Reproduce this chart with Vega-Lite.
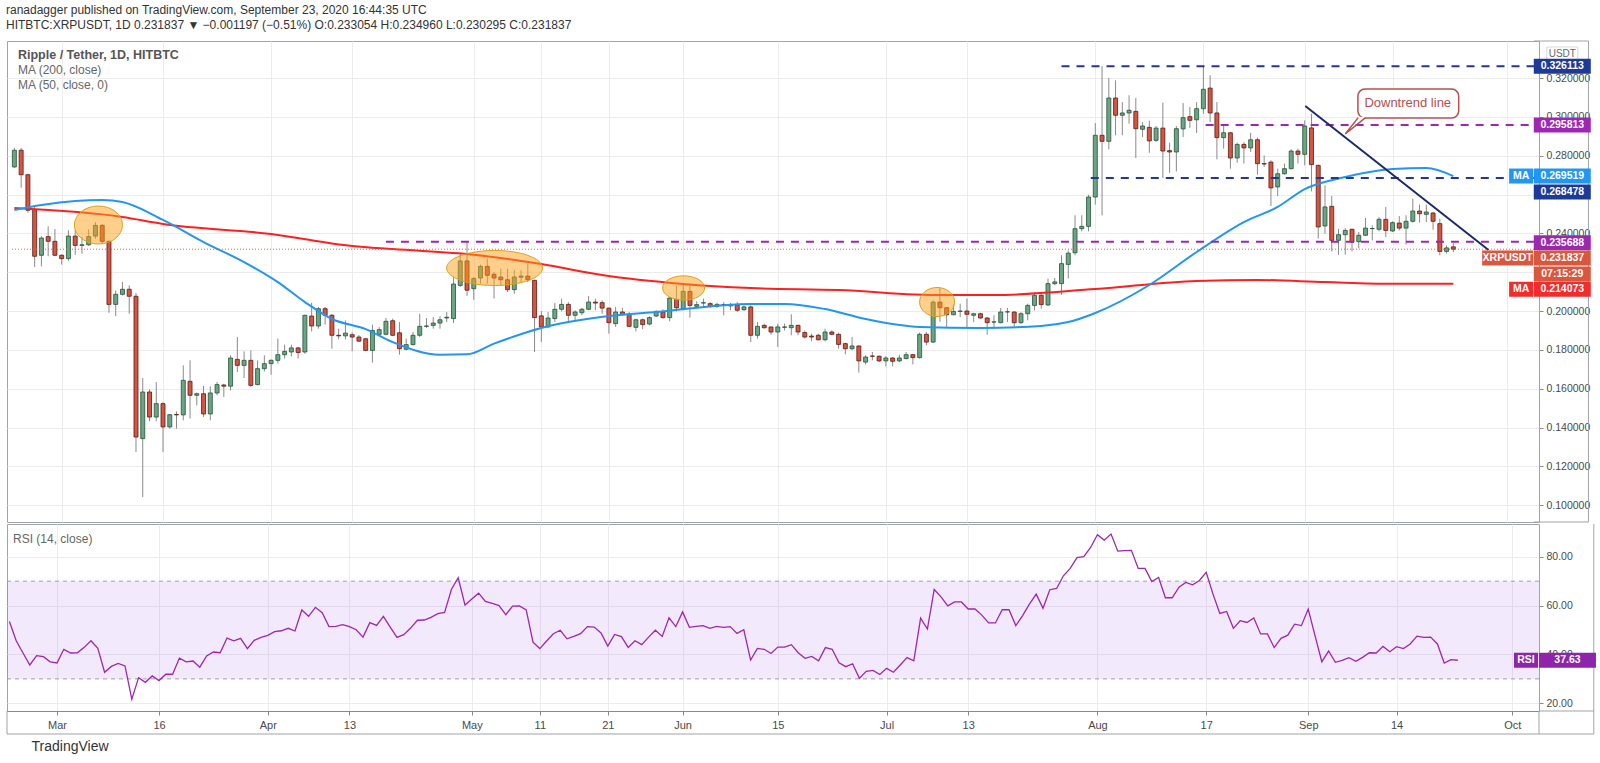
{
  "$schema": "https://vega.github.io/schema/vega-lite/v6.json",
  "background": "white",
  "padding": {"left": 6, "top": 4, "right": 0, "bottom": 0},
  "spacing": 0,
  "title": {
    "text": "ranadagger published on TradingView.com, September 23, 2020 16:44:35 UTC",
    "subtitle": "HITBTC:XRPUSDT, 1D  0.231837 ▼ −0.001197 (−0.51%)  O:0.233054  H:0.234960  L:0.230295  C:0.231837",
    "anchor": "start", "font": "Liberation Sans", "fontSize": 12, "fontWeight": "normal", "color": "#333333",
    "subtitleFont": "Liberation Sans", "subtitleFontSize": 12, "subtitleColor": "#333333", "subtitlePadding": 3, "offset": 8
  },
  "config": {
    "font": "Liberation Sans",
    "view": {"stroke": "#a0a3ab", "strokeWidth": 1},
    "axis": {"gridColor": "#ececec", "labelColor": "#4a4a4a", "labelFontSize": 10.5, "labelFont": "Liberation Sans", "tickColor": "#8a8a8a", "domainColor": "#8a8a8a"}
  },
  "datasets": {
    "ohlc": [
      {"d":"2020-02-23","o":0.2742,"h":0.2841,"l":0.2737,"c":0.2828,"r":53.5},
      {"d":"2020-02-24","o":0.2828,"h":0.2840,"l":0.2635,"c":0.2702,"r":45.6},
      {"d":"2020-02-25","o":0.2702,"h":0.2707,"l":0.2506,"c":0.2519,"r":40.6},
      {"d":"2020-02-26","o":0.2522,"h":0.2544,"l":0.2227,"c":0.2282,"r":35.7},
      {"d":"2020-02-27","o":0.2287,"h":0.2385,"l":0.2230,"c":0.2376,"r":39.5},
      {"d":"2020-02-28","o":0.2383,"h":0.2436,"l":0.2282,"c":0.2359,"r":39.1},
      {"d":"2020-02-29","o":0.2359,"h":0.2422,"l":0.2283,"c":0.2287,"r":37.0},
      {"d":"2020-03-01","o":0.2287,"h":0.2292,"l":0.2239,"c":0.2270,"r":36.5},
      {"d":"2020-03-02","o":0.2270,"h":0.2416,"l":0.2258,"c":0.2386,"r":42.1},
      {"d":"2020-03-03","o":0.2386,"h":0.2416,"l":0.2290,"c":0.2338,"r":40.6},
      {"d":"2020-03-04","o":0.2338,"h":0.2381,"l":0.2295,"c":0.2341,"r":40.7},
      {"d":"2020-03-05","o":0.2341,"h":0.2420,"l":0.2335,"c":0.2383,"r":42.9},
      {"d":"2020-03-06","o":0.2386,"h":0.2458,"l":0.2372,"c":0.2441,"r":45.6},
      {"d":"2020-03-07","o":0.2441,"h":0.2448,"l":0.2347,"c":0.2359,"r":42.5},
      {"d":"2020-03-08","o":0.2359,"h":0.2362,"l":0.1991,"c":0.2034,"r":32.7},
      {"d":"2020-03-09","o":0.2034,"h":0.2106,"l":0.1973,"c":0.2086,"r":35.1},
      {"d":"2020-03-10","o":0.2086,"h":0.2149,"l":0.2080,"c":0.2112,"r":36.3},
      {"d":"2020-03-11","o":0.2112,"h":0.2132,"l":0.1986,"c":0.2076,"r":35.3},
      {"d":"2020-03-12","o":0.2076,"h":0.2093,"l":0.1274,"c":0.1351,"r":21.7},
      {"d":"2020-03-13","o":0.1343,"h":0.1655,"l":0.1042,"c":0.1583,"r":30.5},
      {"d":"2020-03-14","o":0.1583,"h":0.1597,"l":0.1432,"c":0.1454,"r":28.6},
      {"d":"2020-03-15","o":0.1454,"h":0.1634,"l":0.1432,"c":0.1523,"r":31.2},
      {"d":"2020-03-16","o":0.1523,"h":0.1530,"l":0.1274,"c":0.1403,"r":29.3},
      {"d":"2020-03-17","o":0.1403,"h":0.1470,"l":0.1394,"c":0.1466,"r":31.9},
      {"d":"2020-03-18","o":0.1467,"h":0.1483,"l":0.1394,"c":0.1465,"r":31.9},
      {"d":"2020-03-19","o":0.1465,"h":0.1720,"l":0.1437,"c":0.1643,"r":38.5},
      {"d":"2020-03-20","o":0.1638,"h":0.1746,"l":0.1446,"c":0.1566,"r":37.0},
      {"d":"2020-03-21","o":0.1566,"h":0.1580,"l":0.1514,"c":0.1574,"r":37.3},
      {"d":"2020-03-22","o":0.1574,"h":0.1614,"l":0.1454,"c":0.1470,"r":34.8},
      {"d":"2020-03-23","o":0.1470,"h":0.1612,"l":0.1437,"c":0.1578,"r":39.4},
      {"d":"2020-03-24","o":0.1578,"h":0.1634,"l":0.1566,"c":0.1621,"r":41.0},
      {"d":"2020-03-25","o":0.1619,"h":0.1625,"l":0.1557,"c":0.1613,"r":40.7},
      {"d":"2020-03-26","o":0.1613,"h":0.1772,"l":0.1591,"c":0.1758,"r":46.7},
      {"d":"2020-03-27","o":0.1751,"h":0.1866,"l":0.1686,"c":0.1720,"r":45.6},
      {"d":"2020-03-28","o":0.1720,"h":0.1792,"l":0.1655,"c":0.1746,"r":46.6},
      {"d":"2020-03-29","o":0.1746,"h":0.1797,"l":0.1609,"c":0.1617,"r":42.4},
      {"d":"2020-03-30","o":0.1621,"h":0.1746,"l":0.1617,"c":0.1703,"r":45.8},
      {"d":"2020-03-31","o":0.1703,"h":0.1772,"l":0.1689,"c":0.1729,"r":47.0},
      {"d":"2020-04-01","o":0.1729,"h":0.1751,"l":0.1672,"c":0.1746,"r":47.8},
      {"d":"2020-04-02","o":0.1746,"h":0.1858,"l":0.1729,"c":0.1775,"r":49.3},
      {"d":"2020-04-03","o":0.1775,"h":0.1827,"l":0.1755,"c":0.1792,"r":49.7},
      {"d":"2020-04-04","o":0.1789,"h":0.1827,"l":0.1766,"c":0.1810,"r":50.7},
      {"d":"2020-04-05","o":0.1810,"h":0.1815,"l":0.1755,"c":0.1786,"r":49.6},
      {"d":"2020-04-06","o":0.1789,"h":0.1981,"l":0.1780,"c":0.1978,"r":58.2},
      {"d":"2020-04-07","o":0.1974,"h":0.2043,"l":0.1895,"c":0.1923,"r":55.6},
      {"d":"2020-04-08","o":0.1923,"h":0.2021,"l":0.1909,"c":0.2012,"r":59.3},
      {"d":"2020-04-09","o":0.2012,"h":0.2021,"l":0.1930,"c":0.1978,"r":57.1},
      {"d":"2020-04-10","o":0.1978,"h":0.1985,"l":0.1806,"c":0.1875,"r":51.4},
      {"d":"2020-04-11","o":0.1875,"h":0.1909,"l":0.1854,"c":0.1872,"r":51.5},
      {"d":"2020-04-12","o":0.1872,"h":0.1952,"l":0.1854,"c":0.1886,"r":52.2},
      {"d":"2020-04-13","o":0.1878,"h":0.1890,"l":0.1793,"c":0.1866,"r":51.4},
      {"d":"2020-04-14","o":0.1866,"h":0.1876,"l":0.1840,"c":0.1845,"r":50.1},
      {"d":"2020-04-15","o":0.1857,"h":0.1862,"l":0.1793,"c":0.1797,"r":47.1},
      {"d":"2020-04-16","o":0.1797,"h":0.1930,"l":0.1734,"c":0.1900,"r":53.0},
      {"d":"2020-04-17","o":0.1880,"h":0.1918,"l":0.1875,"c":0.1904,"r":51.9},
      {"d":"2020-04-18","o":0.1880,"h":0.1964,"l":0.1875,"c":0.1947,"r":55.6},
      {"d":"2020-04-19","o":0.1950,"h":0.1961,"l":0.1871,"c":0.1875,"r":51.2},
      {"d":"2020-04-20","o":0.1888,"h":0.1943,"l":0.1775,"c":0.1806,"r":47.0},
      {"d":"2020-04-21","o":0.1803,"h":0.1858,"l":0.1798,"c":0.1827,"r":48.1},
      {"d":"2020-04-22","o":0.1827,"h":0.1892,"l":0.1823,"c":0.1875,"r":50.8},
      {"d":"2020-04-23","o":0.1875,"h":0.1986,"l":0.1866,"c":0.1921,"r":54.0},
      {"d":"2020-04-24","o":0.1921,"h":0.1964,"l":0.1913,"c":0.1923,"r":54.1},
      {"d":"2020-04-25","o":0.1926,"h":0.1969,"l":0.1909,"c":0.1938,"r":55.2},
      {"d":"2020-04-26","o":0.1938,"h":0.1973,"l":0.1909,"c":0.1955,"r":56.7},
      {"d":"2020-04-27","o":0.1964,"h":0.1995,"l":0.1943,"c":0.1968,"r":57.2},
      {"d":"2020-04-28","o":0.1961,"h":0.2175,"l":0.1938,"c":0.2139,"r":66.6},
      {"d":"2020-04-29","o":0.2132,"h":0.2295,"l":0.2124,"c":0.2258,"r":71.4},
      {"d":"2020-04-30","o":0.2258,"h":0.2355,"l":0.2077,"c":0.2107,"r":60.2},
      {"d":"2020-05-01","o":0.2115,"h":0.2175,"l":0.2058,"c":0.2167,"r":62.7},
      {"d":"2020-05-02","o":0.2170,"h":0.2239,"l":0.2141,"c":0.2230,"r":65.1},
      {"d":"2020-05-03","o":0.2230,"h":0.2270,"l":0.2141,"c":0.2184,"r":61.7},
      {"d":"2020-05-04","o":0.2189,"h":0.2201,"l":0.2064,"c":0.2170,"r":60.9},
      {"d":"2020-05-05","o":0.2175,"h":0.2218,"l":0.2132,"c":0.2161,"r":60.0},
      {"d":"2020-05-06","o":0.2161,"h":0.2218,"l":0.2098,"c":0.2110,"r":56.3},
      {"d":"2020-05-07","o":0.2110,"h":0.2210,"l":0.2089,"c":0.2175,"r":59.8},
      {"d":"2020-05-08","o":0.2174,"h":0.2210,"l":0.2149,"c":0.2180,"r":59.9},
      {"d":"2020-05-09","o":0.2180,"h":0.2244,"l":0.2149,"c":0.2161,"r":58.2},
      {"d":"2020-05-10","o":0.2158,"h":0.2161,"l":0.1789,"c":0.1966,"r":45.0},
      {"d":"2020-05-11","o":0.1975,"h":0.2000,"l":0.1840,"c":0.1918,"r":42.4},
      {"d":"2020-05-12","o":0.1918,"h":0.1995,"l":0.1912,"c":0.1964,"r":45.5},
      {"d":"2020-05-13","o":0.1961,"h":0.2041,"l":0.1943,"c":0.2009,"r":48.5},
      {"d":"2020-05-14","o":0.2009,"h":0.2064,"l":0.1998,"c":0.2034,"r":49.9},
      {"d":"2020-05-15","o":0.2034,"h":0.2046,"l":0.1943,"c":0.1978,"r":46.4},
      {"d":"2020-05-16","o":0.1978,"h":0.2004,"l":0.1952,"c":0.1995,"r":47.4},
      {"d":"2020-05-17","o":0.1991,"h":0.2016,"l":0.1978,"c":0.2009,"r":48.5},
      {"d":"2020-05-18","o":0.2009,"h":0.2077,"l":0.2004,"c":0.2046,"r":51.4},
      {"d":"2020-05-19","o":0.2046,"h":0.2064,"l":0.2004,"c":0.2041,"r":51.2},
      {"d":"2020-05-20","o":0.2043,"h":0.2055,"l":0.1986,"c":0.2015,"r":48.8},
      {"d":"2020-05-21","o":0.2015,"h":0.2016,"l":0.1883,"c":0.1940,"r":43.4},
      {"d":"2020-05-22","o":0.1935,"h":0.2021,"l":0.1918,"c":0.1995,"r":48.2},
      {"d":"2020-05-23","o":0.1995,"h":0.2016,"l":0.1978,"c":0.1981,"r":47.3},
      {"d":"2020-05-24","o":0.1984,"h":0.1995,"l":0.1918,"c":0.1921,"r":42.9},
      {"d":"2020-05-25","o":0.1916,"h":0.1961,"l":0.1895,"c":0.1955,"r":45.6},
      {"d":"2020-05-26","o":0.1955,"h":0.1961,"l":0.1906,"c":0.1930,"r":44.0},
      {"d":"2020-05-27","o":0.1933,"h":0.1973,"l":0.1926,"c":0.1966,"r":47.1},
      {"d":"2020-05-28","o":0.1974,"h":0.2004,"l":0.1969,"c":0.1998,"r":49.9},
      {"d":"2020-05-29","o":0.1995,"h":0.2009,"l":0.1961,"c":0.1966,"r":47.4},
      {"d":"2020-05-30","o":0.1966,"h":0.2072,"l":0.1947,"c":0.2067,"r":55.0},
      {"d":"2020-05-31","o":0.2060,"h":0.2132,"l":0.1998,"c":0.2017,"r":51.4},
      {"d":"2020-06-01","o":0.2012,"h":0.2141,"l":0.2003,"c":0.2101,"r":57.4},
      {"d":"2020-06-02","o":0.2101,"h":0.2141,"l":0.1966,"c":0.2029,"r":51.1},
      {"d":"2020-06-03","o":0.2024,"h":0.2050,"l":0.2016,"c":0.2033,"r":51.5},
      {"d":"2020-06-04","o":0.2041,"h":0.2064,"l":0.2016,"c":0.2043,"r":51.8},
      {"d":"2020-06-05","o":0.2038,"h":0.2046,"l":0.2016,"c":0.2024,"r":50.7},
      {"d":"2020-06-06","o":0.2024,"h":0.2043,"l":0.2016,"c":0.2034,"r":51.5},
      {"d":"2020-06-07","o":0.2033,"h":0.2046,"l":0.1978,"c":0.2032,"r":51.1},
      {"d":"2020-06-08","o":0.2026,"h":0.2041,"l":0.2004,"c":0.2034,"r":51.4},
      {"d":"2020-06-09","o":0.2032,"h":0.2046,"l":0.1995,"c":0.2004,"r":48.6},
      {"d":"2020-06-10","o":0.2007,"h":0.2028,"l":0.2000,"c":0.2021,"r":50.1},
      {"d":"2020-06-11","o":0.2021,"h":0.2029,"l":0.1840,"c":0.1875,"r":37.7},
      {"d":"2020-06-12","o":0.1875,"h":0.1943,"l":0.1858,"c":0.1921,"r":42.5},
      {"d":"2020-06-13","o":0.1926,"h":0.1935,"l":0.1909,"c":0.1914,"r":42.1},
      {"d":"2020-06-14","o":0.1918,"h":0.1918,"l":0.1878,"c":0.1892,"r":40.4},
      {"d":"2020-06-15","o":0.1892,"h":0.1935,"l":0.1815,"c":0.1918,"r":43.0},
      {"d":"2020-06-16","o":0.1916,"h":0.1935,"l":0.1900,"c":0.1918,"r":43.0},
      {"d":"2020-06-17","o":0.1914,"h":0.1983,"l":0.1875,"c":0.1926,"r":44.0},
      {"d":"2020-06-18","o":0.1926,"h":0.1930,"l":0.1875,"c":0.1892,"r":40.7},
      {"d":"2020-06-19","o":0.1889,"h":0.1900,"l":0.1858,"c":0.1866,"r":38.4},
      {"d":"2020-06-20","o":0.1871,"h":0.1883,"l":0.1844,"c":0.1866,"r":39.2},
      {"d":"2020-06-21","o":0.1875,"h":0.1883,"l":0.1849,"c":0.1852,"r":37.4},
      {"d":"2020-06-22","o":0.1852,"h":0.1909,"l":0.1844,"c":0.1892,"r":42.8},
      {"d":"2020-06-23","o":0.1892,"h":0.1900,"l":0.1875,"c":0.1880,"r":42.1},
      {"d":"2020-06-24","o":0.1880,"h":0.1889,"l":0.1806,"c":0.1828,"r":36.6},
      {"d":"2020-06-25","o":0.1832,"h":0.1837,"l":0.1777,"c":0.1806,"r":35.0},
      {"d":"2020-06-26","o":0.1806,"h":0.1866,"l":0.1798,"c":0.1820,"r":36.2},
      {"d":"2020-06-27","o":0.1820,"h":0.1823,"l":0.1683,"c":0.1743,"r":30.2},
      {"d":"2020-06-28","o":0.1737,"h":0.1772,"l":0.1724,"c":0.1763,"r":33.1},
      {"d":"2020-06-29","o":0.1768,"h":0.1789,"l":0.1746,"c":0.1767,"r":33.5},
      {"d":"2020-06-30","o":0.1767,"h":0.1772,"l":0.1737,"c":0.1743,"r":31.8},
      {"d":"2020-07-01","o":0.1743,"h":0.1768,"l":0.1715,"c":0.1758,"r":34.3},
      {"d":"2020-07-02","o":0.1758,"h":0.1763,"l":0.1715,"c":0.1741,"r":32.7},
      {"d":"2020-07-03","o":0.1743,"h":0.1775,"l":0.1737,"c":0.1758,"r":35.7},
      {"d":"2020-07-04","o":0.1755,"h":0.1789,"l":0.1751,"c":0.1775,"r":38.7},
      {"d":"2020-07-05","o":0.1775,"h":0.1780,"l":0.1725,"c":0.1760,"r":37.4},
      {"d":"2020-07-06","o":0.1760,"h":0.1889,"l":0.1755,"c":0.1880,"r":54.9},
      {"d":"2020-07-07","o":0.1880,"h":0.1892,"l":0.1823,"c":0.1840,"r":50.4},
      {"d":"2020-07-08","o":0.1840,"h":0.2055,"l":0.1835,"c":0.2046,"r":66.6},
      {"d":"2020-07-09","o":0.2046,"h":0.2118,"l":0.1944,"c":0.2017,"r":63.6},
      {"d":"2020-07-10","o":0.2017,"h":0.2021,"l":0.1918,"c":0.1981,"r":59.9},
      {"d":"2020-07-11","o":0.1981,"h":0.2033,"l":0.1978,"c":0.1998,"r":61.5},
      {"d":"2020-07-12","o":0.1998,"h":0.2038,"l":0.1969,"c":0.2000,"r":61.5},
      {"d":"2020-07-13","o":0.2000,"h":0.2064,"l":0.1918,"c":0.1983,"r":58.6},
      {"d":"2020-07-14","o":0.1978,"h":0.1991,"l":0.1943,"c":0.1986,"r":58.6},
      {"d":"2020-07-15","o":0.1986,"h":0.1991,"l":0.1961,"c":0.1964,"r":56.1},
      {"d":"2020-07-16","o":0.1964,"h":0.1969,"l":0.1878,"c":0.1940,"r":52.9},
      {"d":"2020-07-17","o":0.1943,"h":0.1978,"l":0.1909,"c":0.1944,"r":52.9},
      {"d":"2020-07-18","o":0.1940,"h":0.2016,"l":0.1937,"c":0.1995,"r":58.3},
      {"d":"2020-07-19","o":0.1995,"h":0.2016,"l":0.1943,"c":0.1996,"r":58.3},
      {"d":"2020-07-20","o":0.1995,"h":0.1998,"l":0.1913,"c":0.1940,"r":51.8},
      {"d":"2020-07-21","o":0.1940,"h":0.1995,"l":0.1935,"c":0.1986,"r":55.9},
      {"d":"2020-07-22","o":0.1986,"h":0.2038,"l":0.1952,"c":0.2029,"r":60.6},
      {"d":"2020-07-23","o":0.2029,"h":0.2098,"l":0.2003,"c":0.2081,"r":64.7},
      {"d":"2020-07-24","o":0.2081,"h":0.2089,"l":0.2012,"c":0.2033,"r":58.9},
      {"d":"2020-07-25","o":0.2031,"h":0.2167,"l":0.2026,"c":0.2141,"r":66.5},
      {"d":"2020-07-26","o":0.2141,"h":0.2170,"l":0.2132,"c":0.2150,"r":67.0},
      {"d":"2020-07-27","o":0.2141,"h":0.2287,"l":0.2084,"c":0.2244,"r":72.2},
      {"d":"2020-07-28","o":0.2240,"h":0.2312,"l":0.2167,"c":0.2298,"r":75.2},
      {"d":"2020-07-29","o":0.2300,"h":0.2493,"l":0.2287,"c":0.2424,"r":79.6},
      {"d":"2020-07-30","o":0.2424,"h":0.2493,"l":0.2410,"c":0.2436,"r":80.0},
      {"d":"2020-07-31","o":0.2436,"h":0.2599,"l":0.2410,"c":0.2587,"r":83.8},
      {"d":"2020-08-01","o":0.2587,"h":0.2968,"l":0.2548,"c":0.2905,"r":89.0},
      {"d":"2020-08-02","o":0.2905,"h":0.3261,"l":0.2493,"c":0.2874,"r":86.8},
      {"d":"2020-08-03","o":0.2874,"h":0.3200,"l":0.2833,"c":0.3097,"r":89.3},
      {"d":"2020-08-04","o":0.3097,"h":0.3188,"l":0.2905,"c":0.3008,"r":82.3},
      {"d":"2020-08-05","o":0.3008,"h":0.3076,"l":0.2905,"c":0.3020,"r":82.5},
      {"d":"2020-08-06","o":0.3020,"h":0.3111,"l":0.2965,"c":0.3034,"r":82.6},
      {"d":"2020-08-07","o":0.3028,"h":0.3097,"l":0.2788,"c":0.2939,"r":75.2},
      {"d":"2020-08-08","o":0.2936,"h":0.2973,"l":0.2896,"c":0.2953,"r":75.2},
      {"d":"2020-08-09","o":0.2946,"h":0.2980,"l":0.2815,"c":0.2876,"r":69.8},
      {"d":"2020-08-10","o":0.2879,"h":0.2953,"l":0.2870,"c":0.2942,"r":71.5},
      {"d":"2020-08-11","o":0.2942,"h":0.3073,"l":0.2685,"c":0.2824,"r":63.2},
      {"d":"2020-08-12","o":0.2826,"h":0.2867,"l":0.2712,"c":0.2819,"r":63.2},
      {"d":"2020-08-13","o":0.2819,"h":0.2953,"l":0.2719,"c":0.2939,"r":67.5},
      {"d":"2020-08-14","o":0.2938,"h":0.3071,"l":0.2896,"c":0.2996,"r":69.5},
      {"d":"2020-08-15","o":0.3001,"h":0.3051,"l":0.2943,"c":0.2982,"r":68.5},
      {"d":"2020-08-16","o":0.2985,"h":0.3076,"l":0.2917,"c":0.3042,"r":70.3},
      {"d":"2020-08-17","o":0.3042,"h":0.3261,"l":0.3016,"c":0.3142,"r":73.6},
      {"d":"2020-08-18","o":0.3148,"h":0.3214,"l":0.2973,"c":0.3020,"r":64.7},
      {"d":"2020-08-19","o":0.3020,"h":0.3076,"l":0.2781,"c":0.2893,"r":56.8},
      {"d":"2020-08-20","o":0.2893,"h":0.2953,"l":0.2836,"c":0.2918,"r":57.6},
      {"d":"2020-08-21","o":0.2918,"h":0.2922,"l":0.2733,"c":0.2788,"r":50.7},
      {"d":"2020-08-22","o":0.2788,"h":0.2867,"l":0.2764,"c":0.2858,"r":53.8},
      {"d":"2020-08-23","o":0.2858,"h":0.2870,"l":0.2759,"c":0.2840,"r":53.1},
      {"d":"2020-08-24","o":0.2840,"h":0.2918,"l":0.2819,"c":0.2882,"r":54.9},
      {"d":"2020-08-25","o":0.2882,"h":0.2893,"l":0.2702,"c":0.2759,"r":48.4},
      {"d":"2020-08-26","o":0.2759,"h":0.2801,"l":0.2742,"c":0.2757,"r":48.4},
      {"d":"2020-08-27","o":0.2767,"h":0.2776,"l":0.2541,"c":0.2634,"r":42.8},
      {"d":"2020-08-28","o":0.2639,"h":0.2733,"l":0.2592,"c":0.2707,"r":46.6},
      {"d":"2020-08-29","o":0.2707,"h":0.2759,"l":0.2702,"c":0.2733,"r":47.9},
      {"d":"2020-08-30","o":0.2733,"h":0.2833,"l":0.2730,"c":0.2824,"r":52.4},
      {"d":"2020-08-31","o":0.2824,"h":0.2836,"l":0.2759,"c":0.2807,"r":51.8},
      {"d":"2020-09-01","o":0.2807,"h":0.2982,"l":0.2750,"c":0.2953,"r":58.6},
      {"d":"2020-09-02","o":0.2943,"h":0.3016,"l":0.2616,"c":0.2754,"r":47.7},
      {"d":"2020-09-03","o":0.2750,"h":0.2754,"l":0.2373,"c":0.2433,"r":37.0},
      {"d":"2020-09-04","o":0.2438,"h":0.2647,"l":0.2398,"c":0.2536,"r":41.4},
      {"d":"2020-09-05","o":0.2539,"h":0.2592,"l":0.2307,"c":0.2364,"r":36.8},
      {"d":"2020-09-06","o":0.2364,"h":0.2424,"l":0.2290,"c":0.2393,"r":37.6},
      {"d":"2020-09-07","o":0.2393,"h":0.2427,"l":0.2290,"c":0.2415,"r":38.7},
      {"d":"2020-09-08","o":0.2421,"h":0.2424,"l":0.2307,"c":0.2355,"r":37.2},
      {"d":"2020-09-09","o":0.2357,"h":0.2407,"l":0.2324,"c":0.2390,"r":38.8},
      {"d":"2020-09-10","o":0.2390,"h":0.2479,"l":0.2386,"c":0.2427,"r":40.7},
      {"d":"2020-09-11","o":0.2424,"h":0.2441,"l":0.2364,"c":0.2425,"r":40.6},
      {"d":"2020-09-12","o":0.2421,"h":0.2484,"l":0.2410,"c":0.2472,"r":43.3},
      {"d":"2020-09-13","o":0.2472,"h":0.2536,"l":0.2381,"c":0.2415,"r":41.1},
      {"d":"2020-09-14","o":0.2412,"h":0.2462,"l":0.2407,"c":0.2455,"r":43.2},
      {"d":"2020-09-15","o":0.2453,"h":0.2489,"l":0.2415,"c":0.2427,"r":42.4},
      {"d":"2020-09-16","o":0.2427,"h":0.2493,"l":0.2342,"c":0.2462,"r":44.3},
      {"d":"2020-09-17","o":0.2462,"h":0.2579,"l":0.2455,"c":0.2515,"r":47.5},
      {"d":"2020-09-18","o":0.2515,"h":0.2548,"l":0.2455,"c":0.2501,"r":47.0},
      {"d":"2020-09-19","o":0.2498,"h":0.2548,"l":0.2458,"c":0.2510,"r":47.1},
      {"d":"2020-09-20","o":0.2505,"h":0.2510,"l":0.2419,"c":0.2462,"r":44.3},
      {"d":"2020-09-21","o":0.2450,"h":0.2476,"l":0.2287,"c":0.2307,"r":36.5},
      {"d":"2020-09-22","o":0.2307,"h":0.2338,"l":0.2295,"c":0.2325,"r":37.9},
      {"d":"2020-09-23","o":0.233054,"h":0.234960,"l":0.230295,"c":0.231837,"r":37.63}
    ],
    "ma200": [
      {"d":"2020-02-23","p":0.2530},{"d":"2020-03-10","p":0.2484},{"d":"2020-03-16","p":0.2448},
      {"d":"2020-04-01","p":0.2397},{"d":"2020-04-13","p":0.2335},{"d":"2020-04-19","p":0.2319},
      {"d":"2020-05-01","p":0.2290},{"d":"2020-05-11","p":0.2242},{"d":"2020-05-20","p":0.2185},
      {"d":"2020-06-01","p":0.2139},{"d":"2020-06-11","p":0.2118},{"d":"2020-06-24","p":0.2108},
      {"d":"2020-07-09","p":0.2082},{"d":"2020-07-17","p":0.2082},{"d":"2020-08-01","p":0.2113},
      {"d":"2020-08-16","p":0.2155},{"d":"2020-08-25","p":0.2160},{"d":"2020-09-04","p":0.2149},
      {"d":"2020-09-14","p":0.2140},{"d":"2020-09-23","p":0.2141}
    ],
    "ma50": [
      {"d":"2020-02-23","p":0.2520},{"d":"2020-02-27","p":0.2546},{"d":"2020-03-03","p":0.2567},
      {"d":"2020-03-07","p":0.2572},{"d":"2020-03-10","p":0.2561},{"d":"2020-03-16","p":0.2469},
      {"d":"2020-03-22","p":0.2355},{"d":"2020-03-28","p":0.2252},{"d":"2020-04-02","p":0.2149},
      {"d":"2020-04-06","p":0.2046},{"d":"2020-04-10","p":0.1959},{"d":"2020-04-15","p":0.1907},
      {"d":"2020-04-19","p":0.1840},{"d":"2020-04-26","p":0.1775},{"d":"2020-04-30","p":0.1777},
      {"d":"2020-05-04","p":0.1832},{"d":"2020-05-11","p":0.1913},{"d":"2020-05-15","p":0.1943},
      {"d":"2020-05-21","p":0.1974},{"d":"2020-05-28","p":0.1995},{"d":"2020-06-11","p":0.2036},
      {"d":"2020-06-16","p":0.2036},{"d":"2020-06-22","p":0.2010},{"d":"2020-06-28","p":0.1959},
      {"d":"2020-07-06","p":0.1918},{"d":"2020-07-15","p":0.1913},{"d":"2020-07-24","p":0.1923},
      {"d":"2020-07-28","p":0.1943},{"d":"2020-08-01","p":0.1990},{"d":"2020-08-09","p":0.2134},
      {"d":"2020-08-16","p":0.2304},{"d":"2020-08-23","p":0.2458},{"d":"2020-08-28","p":0.2536},
      {"d":"2020-09-01","p":0.2628},{"d":"2020-09-07","p":0.2690},{"d":"2020-09-14","p":0.2731},
      {"d":"2020-09-19","p":0.2737},{"d":"2020-09-23","p":0.2695}
    ],
    "levels": [
      {"d":"2020-07-27","p":0.326113,"k":"navy"},
      {"d":"2020-08-17T08:00:00Z","p":0.295813,"k":"purple"},
      {"d":"2020-07-31T08:00:00Z","p":0.268478,"k":"navy"},
      {"d":"2020-04-18","p":0.235688,"k":"purple"}
    ],
    "tags": [
      {"p":0.326113,"t":"0.326113","k":"navy"},
      {"p":0.295813,"t":"0.295813","k":"purple"},
      {"p":0.269519,"t":"0.269519","k":"ma50"},
      {"p":0.2613,"t":"0.268478","k":"navy"},
      {"p":0.2352,"t":"0.235688","k":"purple"},
      {"p":0.2273,"t":"0.231837","k":"last"},
      {"p":0.2191,"t":"07:15:29","k":"last"},
      {"p":0.2112,"t":"0.214073","k":"ma200"}
    ],
    "sidetags": [
      {"p":0.269519,"t":"MA","k":"ma50"},
      {"p":0.2273,"t":"XRPUSDT","k":"last"},
      {"p":0.2112,"t":"MA","k":"ma200"}
    ],
    "frame": [{"top": 0.33906, "bottom": 0.09134, "rtop": 93.4, "rbottom": 16.85, "strip": 7.43}]
  },
  "vconcat": [
    {
      "width": 1532,
      "height": 481,
      "layer": [
        {
          "data": {"name": "ohlc"},
          "mark": {"type": "rule", "color": "#8a8a8a", "strokeWidth": 1},
          "encoding": {
            "x": {
              "field": "d", "type": "temporal",
              "scale": {"type": "utc", "domain": [{"year":2020,"month":2,"date":22,"hours":15,"minutes":31,"utc":true},{"year":2020,"month":10,"date":4,"hours":22,"minutes":33,"utc":true}]},
              "axis": {
                "title": null, "labels": false, "ticks": false, "domain": false, "grid": true,
                "values": [
                  {"year":2020,"month":3,"date":1,"utc":true},{"year":2020,"month":3,"date":16,"utc":true},
                  {"year":2020,"month":4,"date":1,"utc":true},{"year":2020,"month":4,"date":13,"utc":true},
                  {"year":2020,"month":5,"date":1,"utc":true},{"year":2020,"month":5,"date":11,"utc":true},
                  {"year":2020,"month":5,"date":21,"utc":true},{"year":2020,"month":6,"date":1,"utc":true},
                  {"year":2020,"month":6,"date":15,"utc":true},{"year":2020,"month":7,"date":1,"utc":true},
                  {"year":2020,"month":7,"date":13,"utc":true},{"year":2020,"month":8,"date":1,"utc":true},
                  {"year":2020,"month":8,"date":17,"utc":true},{"year":2020,"month":9,"date":1,"utc":true},
                  {"year":2020,"month":9,"date":14,"utc":true},{"year":2020,"month":10,"date":1,"utc":true}
                ]
              }
            },
            "y": {
              "field": "l", "type": "quantitative",
              "scale": {"domain": [0.09134, 0.33906], "zero": false, "nice": false},
              "axis": {
                "orient": "right", "title": null, "tickSize": 4, "labelPadding": 3,
                "domain": false, "grid": true,
                "labelExpr": "(datum.value == 0.22 || datum.value == 0.26) ? '' : format(datum.value, '.6f')",
                "values": [0.10, 0.12, 0.14, 0.16, 0.18, 0.20, 0.22, 0.24, 0.26, 0.28, 0.30, 0.32]
              }
            },
            "y2": {"field": "h"}
          }
        },
        {
          "data": {"name": "ohlc"},
          "mark": {"type": "bar", "width": 4, "strokeWidth": 0.8},
          "encoding": {
            "x": {"field": "d", "type": "temporal"},
            "y": {"field": "o", "type": "quantitative"},
            "y2": {"field": "c"},
            "fill": {"condition": {"test": "datum.c >= datum.o", "value": "#6ba583"}, "value": "#d75442"},
            "stroke": {"condition": {"test": "datum.c >= datum.o", "value": "#225437"}, "value": "#5b1a13"}
          }
        },
        {
          "data": {"name": "ma200"},
          "mark": {"type": "line", "color": "#ff1f1f", "strokeWidth": 2, "interpolate": "monotone"},
          "encoding": {
            "x": {"field": "d", "type": "temporal"},
            "y": {"field": "p", "type": "quantitative"}
          }
        },
        {
          "data": {"name": "ma50"},
          "mark": {"type": "line", "color": "#2196f3", "strokeWidth": 2, "interpolate": "monotone"},
          "encoding": {
            "x": {"field": "d", "type": "temporal"},
            "y": {"field": "p", "type": "quantitative"}
          }
        },
        {
          "data": {"values": [{"p": 0.231837}]},
          "mark": {"type": "rule", "color": "#e0615a", "strokeDash": [1, 2], "strokeWidth": 1},
          "encoding": {
            "x": {"datum": {"year":2020,"month":2,"date":22,"hours":15,"minutes":31,"utc":true}, "type": "temporal"},
            "x2": {"datum": {"year":2020,"month":10,"date":4,"hours":22,"minutes":33,"utc":true}},
            "y": {"field": "p", "type": "quantitative"}
          }
        },
        {
          "data": {"name": "levels"},
          "mark": {"type": "rule", "strokeDash": [8, 7], "strokeWidth": 2},
          "encoding": {
            "x": {"field": "d", "type": "temporal"},
            "x2": {"datum": {"year":2020,"month":10,"date":4,"hours":22,"minutes":33,"utc":true}},
            "y": {"field": "p", "type": "quantitative"},
            "color": {"field": "k", "type": "nominal", "legend": null,
              "scale": {"domain": ["navy", "purple", "ma50", "last", "ma200"], "range": ["#1c3a96", "#9c27b0", "#2196f3", "#d9573f", "#f52a2a"]}}
          }
        },
        {
          "data": {"values": [{"d": "2020-09-01T02:00:00Z", "p": 0.30558}, {"d": "2020-09-28T05:00:00Z", "p": 0.23142}]},
          "mark": {"type": "line", "color": "#1b2a6b", "strokeWidth": 2},
          "encoding": {
            "x": {"field": "d", "type": "temporal"},
            "y": {"field": "p", "type": "quantitative"}
          }
        },
        {
          "data": {"values": [{"d": "2020-03-06T10:30:00Z", "p": 0.24429}]},
          "mark": {"type": "point", "filled": true, "color": "#ff9f1a", "fillOpacity": 0.5, "stroke": "#d9a21b", "strokeWidth": 1, "strokeOpacity": 1, "size": 2304,
            "shape": "M-1,0C-1,-0.436,-0.552,-0.79,0,-0.79C0.552,-0.79,1,-0.436,1,0C1,0.436,0.552,0.79,0,0.79C-0.552,0.79,-1,0.436,-1,0Z"},
          "encoding": {
            "x": {"field": "d", "type": "temporal"},
            "y": {"field": "p", "type": "quantitative"}
          }
        },
        {
          "data": {"values": [{"d": "2020-05-04T02:00:00Z", "p": 0.22215}]},
          "mark": {"type": "point", "filled": true, "color": "#ff9f1a", "fillOpacity": 0.5, "stroke": "#d9a21b", "strokeWidth": 1, "strokeOpacity": 1, "size": 9216,
            "shape": "M-1,0C-1,-0.2015,-0.552,-0.365,0,-0.365C0.552,-0.365,1,-0.2015,1,0C1,0.2015,0.552,0.365,0,0.365C-0.552,0.365,-1,0.2015,-1,0Z"},
          "encoding": {
            "x": {"field": "d", "type": "temporal"},
            "y": {"field": "p", "type": "quantitative"}
          }
        },
        {
          "data": {"values": [{"d": "2020-06-01T01:30:00Z", "p": 0.21185}]},
          "mark": {"type": "point", "filled": true, "color": "#ff9f1a", "fillOpacity": 0.5, "stroke": "#d9a21b", "strokeWidth": 1, "strokeOpacity": 1, "size": 1764,
            "shape": "M-1,0C-1,-0.32,-0.552,-0.58,0,-0.58C0.552,-0.58,1,-0.32,1,0C1,0.32,0.552,0.58,0,0.58C-0.552,0.58,-1,0.32,-1,0Z"},
          "encoding": {
            "x": {"field": "d", "type": "temporal"},
            "y": {"field": "p", "type": "quantitative"}
          }
        },
        {
          "data": {"values": [{"d": "2020-07-08T14:00:00Z", "p": 0.20464}]},
          "mark": {"type": "point", "filled": true, "color": "#ff9f1a", "fillOpacity": 0.5, "stroke": "#d9a21b", "strokeWidth": 1, "strokeOpacity": 1, "size": 1225,
            "shape": "M-1,0C-1,-0.458,-0.552,-0.83,0,-0.83C0.552,-0.83,1,-0.458,1,0C1,0.458,0.552,0.83,0,0.83C-0.552,0.83,-1,0.458,-1,0Z"},
          "encoding": {
            "x": {"field": "d", "type": "temporal"},
            "y": {"field": "p", "type": "quantitative"}
          }
        },
        {
          "data": {"values": [{"d": "2020-09-08T21:00:00Z", "d2": "2020-09-23T19:00:00Z", "p": 0.3143, "p2": 0.2994}]},
          "mark": {"type": "rect", "fill": "white", "stroke": "#b5504f", "strokeWidth": 1.5, "cornerRadius": 7},
          "encoding": {
            "x": {"field": "d", "type": "temporal"},
            "x2": {"field": "d2"},
            "y": {"field": "p", "type": "quantitative"},
            "y2": {"field": "p2"}
          }
        },
        {
          "data": {"values": [{"d": "2020-09-09T00:00:00Z", "d2": "2020-09-09T22:00:00Z", "p": 0.2994}]},
          "mark": {"type": "rule", "color": "white", "strokeWidth": 2.5},
          "encoding": {
            "x": {"field": "d", "type": "temporal"},
            "x2": {"field": "d2"},
            "y": {"field": "p", "type": "quantitative"}
          }
        },
        {
          "data": {"values": [{"d": "2020-09-08T22:00:00Z", "p": 0.2996, "o": 1}, {"d": "2020-09-07T00:00:00Z", "p": 0.29116, "o": 2}, {"d": "2020-09-10T00:00:00Z", "p": 0.2996, "o": 3}]},
          "mark": {"type": "line", "color": "#b5504f", "strokeWidth": 1.5},
          "encoding": {
            "x": {"field": "d", "type": "temporal"},
            "y": {"field": "p", "type": "quantitative"},
            "order": {"field": "o"}
          }
        },
        {
          "data": {"values": [{"d": "2020-09-16T06:00:00Z", "p": 0.30712, "t": "Downtrend line"}]},
          "mark": {"type": "text", "color": "#b5504f", "fontSize": 13, "align": "center", "baseline": "middle"},
          "encoding": {
            "x": {"field": "d", "type": "temporal"},
            "y": {"field": "p", "type": "quantitative"},
            "text": {"field": "t"}
          }
        },
        {
          "data": {"values": [{"p": 0.33185, "t": "Ripple / Tether, 1D, HITBTC"}]},
          "mark": {"type": "text", "color": "#555555", "fontSize": 12.5, "fontWeight": "bold", "align": "left", "baseline": "middle"},
          "encoding": {
            "x": {"datum": {"year":2020,"month":2,"date":23,"hours":12,"minutes":45,"utc":true}, "type": "temporal"},
            "y": {"field": "p", "type": "quantitative"},
            "text": {"field": "t"}
          }
        },
        {
          "data": {"values": [{"p": 0.32412, "t": "MA (200, close)"}, {"p": 0.31639, "t": "MA (50, close, 0)"}]},
          "mark": {"type": "text", "color": "#666666", "fontSize": 12, "align": "left", "baseline": "middle"},
          "encoding": {
            "x": {"datum": {"year":2020,"month":2,"date":23,"hours":12,"minutes":45,"utc":true}, "type": "temporal"},
            "y": {"field": "p", "type": "quantitative"},
            "text": {"field": "t"}
          }
        },
        {
          "data": {"name": "frame"},
          "mark": {"type": "rule", "color": "#a0a3ab", "strokeWidth": 1},
          "encoding": {
            "x": {"datum": {"year":2020,"month":10,"date":4,"hours":22,"minutes":33,"utc":true}, "type": "temporal"},
            "x2": {"datum": {"year":2020,"month":10,"date":13,"utc":true}},
            "y": {"field": "top", "type": "quantitative"}
          }
        },
        {
          "data": {"name": "frame"},
          "mark": {"type": "rule", "color": "#a0a3ab", "strokeWidth": 1},
          "encoding": {
            "x": {"datum": {"year":2020,"month":10,"date":4,"hours":22,"minutes":33,"utc":true}, "type": "temporal"},
            "x2": {"datum": {"year":2020,"month":10,"date":13,"utc":true}},
            "y": {"field": "bottom", "type": "quantitative"}
          }
        },
        {
          "data": {"name": "frame"},
          "mark": {"type": "rule", "color": "#a0a3ab", "strokeWidth": 1},
          "encoding": {
            "x": {"datum": {"year":2020,"month":10,"date":13,"utc":true}, "type": "temporal"},
            "y": {"field": "top", "type": "quantitative"},
            "y2": {"field": "bottom"}
          }
        },
        {
          "data": {"values": [{"p": 0.33236, "t": "USDT"}]},
          "mark": {"type": "point", "filled": true, "color": "white", "stroke": "#c9c9c9", "strokeWidth": 1, "size": 961, "shape": "M-1,-0.452L1,-0.452L1,0.452L-1,0.452Z"},
          "encoding": {
            "x": {"datum": {"year":2020,"month":10,"date":9,"hours":3,"utc":true}, "type": "temporal"},
            "y": {"field": "p", "type": "quantitative"}
          }
        },
        {
          "data": {"values": [{"p": 0.33236, "t": "USDT"}]},
          "mark": {"type": "text", "color": "#666666", "fontSize": 10, "align": "center", "baseline": "middle"},
          "encoding": {
            "x": {"datum": {"year":2020,"month":10,"date":9,"hours":3,"utc":true}, "type": "temporal"},
            "y": {"field": "p", "type": "quantitative"},
            "text": {"field": "t"}
          }
        },
        {
          "data": {"name": "tags"},
          "mark": {"type": "point", "filled": true, "opacity": 1, "size": 3249, "shape": "M-1,-0.263L1,-0.263L1,0.263L-1,0.263Z"},
          "encoding": {
            "x": {"datum": {"year":2020,"month":10,"date":9,"hours":3,"utc":true}, "type": "temporal"},
            "y": {"field": "p", "type": "quantitative"},
            "color": {"field": "k", "type": "nominal", "legend": null,
              "scale": {"domain": ["navy", "purple", "ma50", "last", "ma200"], "range": ["#1c3a96", "#9c27b0", "#2196f3", "#d9573f", "#f52a2a"]}}
          }
        },
        {
          "data": {"name": "tags"},
          "mark": {"type": "text", "color": "white", "fontSize": 10.5, "fontWeight": "bold", "align": "center", "baseline": "middle"},
          "encoding": {
            "x": {"datum": {"year":2020,"month":10,"date":9,"hours":3,"utc":true}, "type": "temporal"},
            "y": {"field": "p", "type": "quantitative"},
            "text": {"field": "t"}
          }
        },
        {
          "data": {"name": "sidetags"},
          "transform": [{"filter": "datum.t == 'MA'"}],
          "mark": {"type": "point", "filled": true, "opacity": 1, "size": 576, "shape": "M-1,-0.625L1,-0.625L1,0.625L-1,0.625Z"},
          "encoding": {
            "x": {"datum": {"year":2020,"month":10,"date":3,"hours":0,"minutes":45,"utc":true}, "type": "temporal"},
            "y": {"field": "p", "type": "quantitative"},
            "color": {"field": "k", "type": "nominal", "legend": null,
              "scale": {"domain": ["navy", "purple", "ma50", "last", "ma200"], "range": ["#1c3a96", "#9c27b0", "#2196f3", "#d9573f", "#f52a2a"]}}
          }
        },
        {
          "data": {"name": "sidetags"},
          "transform": [{"filter": "datum.t == 'MA'"}],
          "mark": {"type": "text", "color": "white", "fontSize": 10.5, "fontWeight": "bold", "align": "center", "baseline": "middle"},
          "encoding": {
            "x": {"datum": {"year":2020,"month":10,"date":3,"hours":0,"minutes":45,"utc":true}, "type": "temporal"},
            "y": {"field": "p", "type": "quantitative"},
            "text": {"field": "t"}
          }
        },
        {
          "data": {"name": "sidetags"},
          "transform": [{"filter": "datum.t == 'XRPUSDT'"}],
          "mark": {"type": "point", "filled": true, "opacity": 1, "size": 2601, "shape": "M-1,-0.294L1,-0.294L1,0.294L-1,0.294Z"},
          "encoding": {
            "x": {"datum": {"year":2020,"month":10,"date":1,"hours":1,"utc":true}, "type": "temporal"},
            "y": {"field": "p", "type": "quantitative"},
            "color": {"field": "k", "type": "nominal", "legend": null,
              "scale": {"domain": ["navy", "purple", "ma50", "last", "ma200"], "range": ["#1c3a96", "#9c27b0", "#2196f3", "#d9573f", "#f52a2a"]}}
          }
        },
        {
          "data": {"name": "sidetags"},
          "transform": [{"filter": "datum.t == 'XRPUSDT'"}],
          "mark": {"type": "text", "color": "white", "fontSize": 10.5, "fontWeight": "bold", "align": "center", "baseline": "middle"},
          "encoding": {
            "x": {"datum": {"year":2020,"month":10,"date":1,"hours":1,"utc":true}, "type": "temporal"},
            "y": {"field": "p", "type": "quantitative"},
            "text": {"field": "t"}
          }
        }
      ]
    },
    {
      "width": 1532,
      "height": 187,
      "layer": [
        {
          "data": {"values": [{"p": 70, "p2": 30}]},
          "mark": {"type": "rect", "color": "#8a2be2", "opacity": 0.1},
          "encoding": {
            "x": {
              "datum": {"year":2020,"month":2,"date":22,"hours":15,"minutes":31,"utc":true}, "type": "temporal",
              "scale": {"type": "utc", "domain": [{"year":2020,"month":2,"date":22,"hours":15,"minutes":31,"utc":true},{"year":2020,"month":10,"date":4,"hours":22,"minutes":33,"utc":true}]},
              "axis": {
                "title": "TradingView", "titleAnchor": "start", "titleAlign": "left", "titleX": 24, "titlePadding": 9,
                "titleFontSize": 14, "titleFontWeight": "normal", "titleColor": "#333333", "titleFont": "Liberation Sans",
                "grid": true, "tickSize": 4, "domain": true, "labelPadding": 4, "labelFontSize": 11,
                "labelExpr": "utcdate(datum.value) == 1 ? utcFormat(datum.value, '%b') : utcFormat(datum.value, '%-d')",
                "values": [
                  {"year":2020,"month":3,"date":1,"utc":true},{"year":2020,"month":3,"date":16,"utc":true},
                  {"year":2020,"month":4,"date":1,"utc":true},{"year":2020,"month":4,"date":13,"utc":true},
                  {"year":2020,"month":5,"date":1,"utc":true},{"year":2020,"month":5,"date":11,"utc":true},
                  {"year":2020,"month":5,"date":21,"utc":true},{"year":2020,"month":6,"date":1,"utc":true},
                  {"year":2020,"month":6,"date":15,"utc":true},{"year":2020,"month":7,"date":1,"utc":true},
                  {"year":2020,"month":7,"date":13,"utc":true},{"year":2020,"month":8,"date":1,"utc":true},
                  {"year":2020,"month":8,"date":17,"utc":true},{"year":2020,"month":9,"date":1,"utc":true},
                  {"year":2020,"month":9,"date":14,"utc":true},{"year":2020,"month":10,"date":1,"utc":true}
                ]
              }
            },
            "x2": {"datum": {"year":2020,"month":10,"date":4,"hours":22,"minutes":33,"utc":true}},
            "y": {
              "field": "p", "type": "quantitative",
              "scale": {"domain": [16.85, 93.4], "zero": false, "nice": false},
              "axis": {"orient": "right", "title": null, "format": ".2f", "tickSize": 4, "labelPadding": 3, "domain": false, "grid": true, "values": [20, 40, 60, 80]}
            },
            "y2": {"field": "p2"}
          }
        },
        {
          "data": {"values": [{"p": 70}, {"p": 30}]},
          "mark": {"type": "rule", "color": "#a0a0a0", "strokeDash": [4, 4], "strokeWidth": 1},
          "encoding": {
            "x": {"datum": {"year":2020,"month":2,"date":22,"hours":15,"minutes":31,"utc":true}, "type": "temporal"},
            "x2": {"datum": {"year":2020,"month":10,"date":4,"hours":22,"minutes":33,"utc":true}},
            "y": {"field": "p", "type": "quantitative"}
          }
        },
        {
          "data": {"name": "ohlc"},
          "mark": {"type": "line", "color": "#9c27b0", "strokeWidth": 1.3},
          "encoding": {
            "x": {"field": "d", "type": "temporal"},
            "y": {"field": "r", "type": "quantitative"}
          }
        },
        {
          "data": {"values": [{"p": 87.2, "t": "RSI (14, close)"}]},
          "mark": {"type": "text", "color": "#666666", "fontSize": 12, "align": "left", "baseline": "middle"},
          "encoding": {
            "x": {"datum": {"year":2020,"month":2,"date":23,"hours":12,"minutes":45,"utc":true}, "type": "temporal"},
            "y": {"field": "p", "type": "quantitative"},
            "text": {"field": "t"}
          }
        },
        {
          "data": {"name": "frame"},
          "mark": {"type": "rule", "color": "#a0a3ab", "strokeWidth": 1},
          "encoding": {
            "x": {"datum": {"year":2020,"month":10,"date":13,"utc":true}, "type": "temporal"},
            "y": {"field": "rtop", "type": "quantitative"},
            "y2": {"field": "strip"}
          }
        },
        {
          "data": {"name": "frame"},
          "mark": {"type": "rule", "color": "#a0a3ab", "strokeWidth": 1},
          "encoding": {
            "x": {"datum": {"year":2020,"month":10,"date":4,"hours":22,"minutes":33,"utc":true}, "type": "temporal"},
            "y": {"field": "rbottom", "type": "quantitative"},
            "y2": {"field": "strip"}
          }
        },
        {
          "data": {"name": "frame"},
          "mark": {"type": "rule", "color": "#a0a3ab", "strokeWidth": 1},
          "encoding": {
            "x": {"datum": {"year":2020,"month":2,"date":22,"hours":15,"minutes":31,"utc":true}, "type": "temporal"},
            "y": {"field": "rbottom", "type": "quantitative"},
            "y2": {"field": "strip"}
          }
        },
        {
          "data": {"name": "frame"},
          "mark": {"type": "rule", "color": "#a0a3ab", "strokeWidth": 1},
          "encoding": {
            "x": {"datum": {"year":2020,"month":2,"date":22,"hours":15,"minutes":31,"utc":true}, "type": "temporal"},
            "x2": {"datum": {"year":2020,"month":10,"date":13,"utc":true}},
            "y": {"field": "strip", "type": "quantitative"}
          }
        },
        {
          "data": {"name": "frame"},
          "mark": {"type": "rule", "color": "#a0a3ab", "strokeWidth": 1},
          "encoding": {
            "x": {"datum": {"year":2020,"month":10,"date":4,"hours":22,"minutes":33,"utc":true}, "type": "temporal"},
            "x2": {"datum": {"year":2020,"month":10,"date":13,"utc":true}},
            "y": {"field": "rbottom", "type": "quantitative"}
          }
        },
        {
          "data": {"values": [{"p": 37.63, "t": "37.63"}]},
          "mark": {"type": "point", "filled": true, "opacity": 1, "color": "#8e24aa", "size": 3249, "shape": "M-1,-0.263L1,-0.263L1,0.263L-1,0.263Z"},
          "encoding": {
            "x": {"datum": {"year":2020,"month":10,"date":9,"hours":3,"utc":true}, "type": "temporal"},
            "y": {"field": "p", "type": "quantitative"}
          }
        },
        {
          "data": {"values": [{"p": 37.63, "t": "37.63"}]},
          "mark": {"type": "text", "color": "white", "fontSize": 10.5, "fontWeight": "bold", "align": "center", "baseline": "middle"},
          "encoding": {
            "x": {"datum": {"year":2020,"month":10,"date":9,"hours":3,"utc":true}, "type": "temporal"},
            "y": {"field": "p", "type": "quantitative"},
            "text": {"field": "t"}
          }
        },
        {
          "data": {"values": [{"p": 37.63, "t": "RSI"}]},
          "mark": {"type": "point", "filled": true, "opacity": 1, "color": "#8e24aa", "size": 576, "shape": "M-1,-0.625L1,-0.625L1,0.625L-1,0.625Z"},
          "encoding": {
            "x": {"datum": {"year":2020,"month":10,"date":3,"hours":0,"minutes":45,"utc":true}, "type": "temporal"},
            "y": {"field": "p", "type": "quantitative"}
          }
        },
        {
          "data": {"values": [{"p": 37.63, "t": "RSI"}]},
          "mark": {"type": "text", "color": "white", "fontSize": 10.5, "fontWeight": "bold", "align": "center", "baseline": "middle"},
          "encoding": {
            "x": {"datum": {"year":2020,"month":10,"date":3,"hours":0,"minutes":45,"utc":true}, "type": "temporal"},
            "y": {"field": "p", "type": "quantitative"},
            "text": {"field": "t"}
          }
        }
      ]
    }
  ]
}
